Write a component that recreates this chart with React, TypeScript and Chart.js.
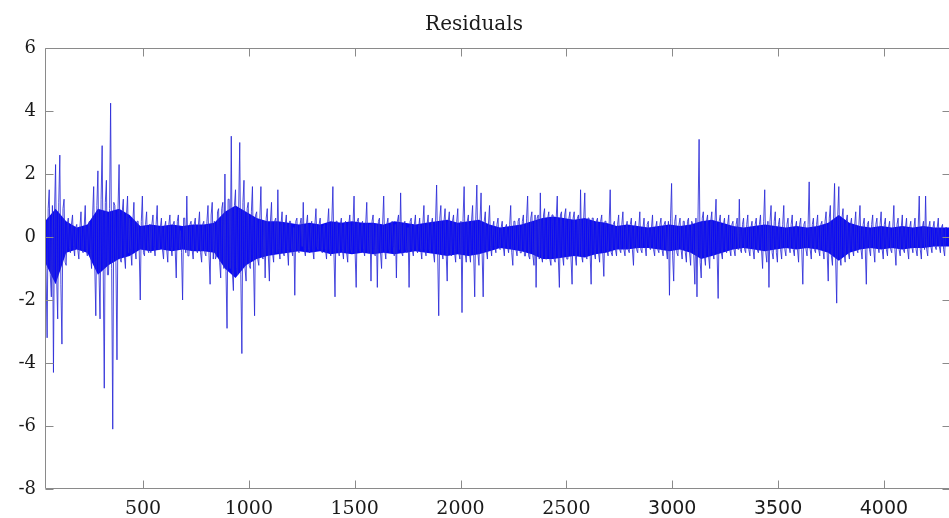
import React, { useEffect, useRef } from "react";
import { Chart, registerables } from "chart.js";

Chart.register(...registerables);

// ---- data ----
const sampleStart = 37; // first sample index shown
const sampleStep = 5; // index distance between the stored samples
const coreStep = 50; // index distance between the dense-core envelope samples
const xMin = 37;
const xMax = 4317;
const yMin = -8;
const yMax = 6;
const xTickValues = [500, 1000, 1500, 2000, 2500, 3000, 3500, 4000];
const yTickValues = [-8, -6, -4, -2, 0, 2, 4, 6];
const chartTitle = "Residuals";

// samples 37 .. 1132
const residualsPart1 = [
  0.4, -1.0, -3.2, 0.9, 1.5, -1.2, -1.9, 1.0, -4.3, 0.8, 2.3, -1.3, -2.6, 1.1, 2.6, -1.5, -3.4, 0.9, 1.2, -0.8,
  -0.9, 0.4, 0.6, -0.3, -0.5, 0.4, 0.7, -0.3, -0.6, 0.3, 0.4, -0.4, -0.7, 0.3, 0.8, -0.4, -0.5, 0.3, 1.0, -0.4,
  -0.6, 0.4, 0.5, -0.5, -1.0, 0.7, 1.6, -0.9, -2.5, 1.0, 2.1, -1.1, -2.6, 1.2, 2.9, -1.0, -4.8, 1.1, 1.8, -1.2,
  -1.2, 0.9, 4.25, -1.0, -6.1, 1.1, 1.0, -0.8, -3.9, 0.9, 2.3, -0.7, -0.8, 0.8, 1.2, -0.6, -1.0, 0.7, 1.3, -0.5,
  0.6, -0.4, -0.9, 0.5, 1.1, -0.4, -0.7, 0.5, 0.5, -0.4, -2.0, 0.5, 1.3, -0.5, -0.6, 0.4, 0.8, -0.4, -0.5, 0.4,
  -0.5, 0.4, 0.7, -0.3, -0.6, 0.4, 1.0, -0.4, -0.4, 0.3, 0.6, -0.4, -0.7, 0.3, 0.5, -0.4, -0.8, 0.4, 0.7, -0.3,
  -0.6, 0.4, 0.5, -0.4, -1.3, 0.5, 0.7, -0.4, 0.2, -0.5, -2.0, 0.6, 0.6, -0.5, 1.3, -0.6, -0.6, 0.4, 0.5, -0.4,
  -0.7, 0.4, 0.6, -0.4, -0.5, 0.4, 0.8, -0.5, -0.8, 0.4, 0.5, -0.5, -0.6, 0.5, 1.0, -0.6, -1.5, 0.7, 1.1, -0.7,
  0.5, -0.7, -0.6, 0.8, 0.9, -0.8, -1.3, 0.9, 1.1, -1.0, 2.0, -1.1, -2.9, 1.2, 1.2, -1.0, 3.2, -1.1, -1.7, 1.0,
  1.5, -1.0, -1.2, 0.9, 3.0, -1.2, -3.7, 1.1, 1.8, -1.0, -1.4, 0.9, 1.1, -0.9, -1.0, 0.8, 1.6, -0.8, -2.5, 0.7,
  0.8, -0.7, -0.9, 0.6, 1.6, -0.6, -0.7, 0.5, -1.3, 0.6, 0.9, -0.6, -1.4, 0.5, 1.1, -0.5, -0.8, 0.5, 0.6, -0.5,
];

// samples 1137 .. 2232
const residualsPart2 = [
  1.5, -0.4, -0.7, 0.4, 0.8, -0.5, -0.6, 0.4, 0.7, -0.4, -0.9, 0.5, 0.5, -0.4, -0.6, 0.3, -1.85, 0.5, 0.6, -0.4,
  -0.5, 0.4, 0.6, -0.3, 1.1, -0.4, -0.6, 0.4, 0.7, -0.4, -0.5, 0.3, 0.5, -0.4, -0.7, 0.4, 0.9, -0.3, -0.4, 0.4,
  0.6, -0.4, -0.5, 0.3, 0.4, -0.4, -0.7, 0.4, 0.9, -0.4, -0.6, 0.5, 1.6, -0.5, -1.9, 0.5, 0.5, -0.4, -0.6, 0.4,
  0.6, -0.4, -0.7, 0.4, 0.5, -0.5, -0.8, 0.4, 0.7, -0.4, -0.5, 0.4, 1.3, -0.5, -1.6, 0.5, 0.6, -0.4, -0.5, 0.4,
  0.5, -0.4, -0.6, 0.4, 1.1, -0.5, -0.5, 0.4, -1.4, 0.5, 0.7, -0.5, -0.6, 0.4, -1.6, 0.5, 0.6, -0.5, -1.0, 0.4,
  1.3, -0.4, -0.7, 0.4, 0.6, -0.4, -0.5, 0.4, 0.5, -0.3, -0.6, 0.4, -1.3, 0.5, 0.7, -0.4, 1.4, -0.5, -0.6, 0.4,
  0.5, -0.4, -0.5, 0.3, -1.6, 0.5, 0.6, -0.4, -0.6, 0.4, 0.7, -0.4, -0.5, 0.3, 0.6, -0.4, -0.7, 0.4, 1.0, -0.4,
  -0.6, 0.4, 0.7, -0.4, -0.5, 0.4, 0.6, -0.5, -0.8, 0.5, 1.65, -0.5, -2.5, 0.6, 1.0, -0.5, -0.7, 0.5, 0.9, -0.5,
  -1.4, 0.5, 0.8, -0.5, -0.6, 0.5, 0.7, -0.5, -0.8, 0.5, 0.9, -0.5, -0.7, 0.5, -2.4, 0.6, 1.6, -0.5, -0.8, 0.5,
  0.7, -0.5, -0.8, 0.5, 1.0, -0.5, -1.9, 0.6, 1.65, -0.5, -0.9, 0.5, 1.4, -0.5, -1.9, 0.5, 0.8, -0.4, -0.7, 0.4,
  1.0, -0.3, -0.6, 0.3, 0.5, -0.3, -0.5, 0.4, 0.6, -0.3, -0.4, 0.3, 0.5, -0.3, -0.6, 0.3, 0.4, -0.3, -0.5, 0.4,
];

// samples 2237 .. 3332
const residualsPart3 = [
  1.0, -0.5, -0.9, 0.5, 0.5, -0.4, -0.6, 0.5, 0.6, -0.5, -0.5, 0.5, 0.7, -0.6, -0.6, 0.6, 1.3, -0.6, -0.7, 0.6,
  0.8, -0.6, -0.9, 0.7, -1.6, 0.6, 0.7, -0.7, 1.4, -0.6, -0.8, 0.7, 0.9, -0.7, -0.7, 0.6, 0.8, -0.7, -0.9, 0.7,
  0.7, -0.7, -0.8, 0.6, 1.3, -0.7, -1.6, 0.7, 0.8, -0.6, -0.9, 0.7, 0.9, -0.7, -0.7, 0.6, 0.8, -0.7, -1.5, 0.6,
  0.8, -0.6, -0.9, 0.6, 0.7, -0.6, 1.5, -0.6, -0.8, 0.6, 1.4, -0.6, -0.7, 0.6, 0.6, -0.5, -1.5, 0.6, 0.6, -0.5,
  -0.7, 0.5, 0.6, -0.5, -0.8, 0.5, 0.7, -0.5, -1.25, 0.5, 0.5, -0.4, -0.6, 0.4, 1.5, -0.5, -0.6, 0.4, 0.5, -0.4,
  -0.6, 0.4, 0.7, -0.4, -0.5, 0.4, 0.8, -0.4, -0.6, 0.3, 0.5, -0.4, -0.5, 0.4, 0.6, -0.4, -0.9, 0.3, 0.5, -0.4,
  -0.5, 0.3, 0.8, -0.4, -0.5, 0.3, 0.6, -0.3, -0.6, 0.4, 0.5, -0.3, -0.4, 0.3, 0.7, -0.4, -0.6, 0.3, 0.5, -0.4,
  -0.5, 0.4, 0.6, -0.4, -0.6, 0.4, 0.5, -0.4, -0.7, 0.5, -1.85, 0.6, 1.7, -0.6, -1.4, 0.5, 0.7, -0.5, -0.6, 0.4,
  0.6, -0.4, -0.7, 0.5, 0.5, -0.5, -0.8, 0.5, 0.6, -0.5, -0.9, 0.5, 0.4, -0.6, -1.5, 0.6, -1.9, 0.7, 3.1, -0.8,
  -1.3, 0.6, 0.8, -0.6, -0.9, 0.5, 0.7, -0.6, -1.0, 0.5, 0.8, -0.5, -0.7, 0.5, 1.2, -0.5, -1.95, 0.5, 0.7, -0.5,
  -0.7, 0.4, 0.6, -0.4, -0.5, 0.4, 0.7, -0.4, -0.6, 0.4, 0.5, -0.4, -0.6, 0.4, 0.6, -0.4, 1.2, -0.4, -0.5, 0.4,
];

// samples 3337 .. 4297
const residualsPart4 = [
  0.6, -0.4, -0.5, 0.4, 0.7, -0.4, -0.6, 0.3, 0.5, -0.4, -0.7, 0.4, 0.6, -0.4, -0.5, 0.4, 0.7, -0.4, -1.0, 0.5,
  1.5, -0.5, -0.8, 0.5, -1.6, 0.5, 1.0, -0.5, -0.7, 0.5, 0.8, -0.5, -0.8, 0.4, 0.6, -0.4, -0.7, 0.4, 1.0, -0.4,
  -0.6, 0.4, 0.6, -0.3, -0.5, 0.4, 0.7, -0.4, -0.6, 0.3, 0.5, -0.4, -0.8, 0.4, 0.6, -0.4, -1.5, 0.4, 0.5, -0.4,
  -0.6, 0.4, 1.75, -0.4, -0.7, 0.4, 0.6, -0.4, -0.5, 0.4, 0.7, -0.4, -0.6, 0.4, 0.5, -0.4, -0.7, 0.5, 0.8, -0.5,
  -1.4, 0.6, 1.0, -0.6, -0.9, 0.6, 1.7, -0.7, -2.1, 0.7, 1.6, -0.6, -0.9, 0.6, 0.9, -0.5, -0.8, 0.5, 0.7, -0.5,
  -0.7, 0.4, 0.6, -0.4, -0.6, 0.4, 0.8, -0.4, -0.5, 0.4, 1.0, -0.4, -0.7, 0.4, 0.6, -0.4, -1.5, 0.4, 0.5, -0.4,
  -0.6, 0.4, 0.7, -0.4, -0.8, 0.4, 0.6, -0.3, -0.5, 0.4, 0.8, -0.4, -0.7, 0.4, 0.6, -0.4, -0.6, 0.3, 0.5, -0.4,
  -0.5, 0.3, 1.0, -0.4, -0.9, 0.4, 0.6, -0.4, -0.6, 0.3, 0.7, -0.4, -0.5, 0.3, 0.6, -0.4, -0.7, 0.3, 0.5, -0.3,
  -0.5, 0.3, 0.6, -0.4, -0.6, 0.3, 1.3, -0.4, -0.7, 0.3, 0.5, -0.4, 1.3, -0.4, -0.6, 0.3, 0.5, -0.3, -0.5, 0.3,
  0.5, -0.3, -0.4, 0.3, 0.6, -0.3, -0.5, 0.3, 0.4, -0.4, -0.6, 0.3, 0.3,
];

// Upper / lower edge of the solid (overplotted) blue core, one value every 50 samples from 37
const coreUpper = [
  0.5, 0.9, 0.5, 0.3, 0.4, 0.9, 0.8, 0.9, 0.7, 0.35,
  0.4, 0.35, 0.4, 0.35, 0.4, 0.4, 0.45, 0.8, 1.0, 0.8,
  0.6, 0.5, 0.5, 0.45, 0.4, 0.45, 0.4, 0.5, 0.45, 0.5,
  0.45, 0.45, 0.4, 0.5, 0.45, 0.4, 0.45, 0.5, 0.55, 0.45,
  0.5, 0.55, 0.4, 0.3, 0.35, 0.4, 0.5, 0.6, 0.65, 0.6,
  0.55, 0.6, 0.5, 0.45, 0.35, 0.4, 0.35, 0.3, 0.35, 0.4,
  0.35, 0.4, 0.5, 0.55, 0.45, 0.35, 0.3, 0.35, 0.4, 0.35,
  0.3, 0.35, 0.3, 0.35, 0.45, 0.7, 0.45, 0.35, 0.3, 0.35,
  0.3, 0.35, 0.3, 0.35, 0.3, 0.3, 0.3,
];
const coreLower = [
  -0.8, -1.5, -0.5, -0.4, -0.5, -1.2, -0.9, -0.7, -0.6, -0.4,
  -0.45, -0.4, -0.45, -0.4, -0.45, -0.45, -0.5, -1.0, -1.3, -0.9,
  -0.7, -0.6, -0.55, -0.5, -0.45, -0.5, -0.45, -0.55, -0.5, -0.55,
  -0.5, -0.55, -0.5, -0.55, -0.5, -0.45, -0.5, -0.55, -0.6, -0.55,
  -0.6, -0.55, -0.45, -0.35, -0.4, -0.45, -0.55, -0.7, -0.7, -0.65,
  -0.6, -0.65, -0.55, -0.5, -0.4, -0.4, -0.35, -0.35, -0.4, -0.45,
  -0.4, -0.5, -0.7, -0.6, -0.5, -0.4, -0.35, -0.4, -0.45, -0.4,
  -0.35, -0.4, -0.35, -0.4, -0.5, -0.75, -0.5, -0.4, -0.35, -0.4,
  -0.35, -0.4, -0.35, -0.35, -0.3, -0.3, -0.3,
];

const residuals = [...residualsPart1, ...residualsPart2, ...residualsPart3, ...residualsPart4];

const AXIS_COLOR = "#8a8a8a";
const TEXT_COLOR = "#1a1a1a";
const LINE_COLOR = "#2a2ad8";
const CORE_COLOR = "#0a0af5";

export default function App() {
  const canvasRef = useRef<HTMLCanvasElement | null>(null);

  useEffect(() => {
    const canvas = canvasRef.current;
    if (!canvas) return;

    const points = residuals.map((v, i) => ({ x: sampleStart + i * sampleStep, y: v }));
    const upperPts = coreUpper.map((v, i) => ({ x: sampleStart + i * coreStep, y: v }));
    const lowerPts = coreLower.map((v, i) => ({ x: sampleStart + i * coreStep, y: v }));

    const framePlugin = {
      id: "matlabFrame",
      afterDraw(chart: any) {
        const { ctx, chartArea } = chart;
        const xs = chart.scales.x;
        const ys = chart.scales.y;
        const L = Math.round(chartArea.left) + 0.5;
        const R = Math.round(chartArea.right) - 0.5;
        const T = Math.round(chartArea.top) + 0.5;
        const B = Math.round(chartArea.bottom) - 0.5;
        const tick = 8;
        ctx.save();
        ctx.strokeStyle = AXIS_COLOR;
        ctx.lineWidth = 1;
        ctx.beginPath();
        ctx.rect(L, T, R - L, B - T);
        for (const v of xTickValues) {
          const px = Math.round(xs.getPixelForValue(v)) + 0.5;
          ctx.moveTo(px, B);
          ctx.lineTo(px, B - tick);
          ctx.moveTo(px, T);
          ctx.lineTo(px, T + tick);
        }
        for (const v of yTickValues) {
          const py = Math.round(ys.getPixelForValue(v)) + 0.5;
          ctx.moveTo(L, py);
          ctx.lineTo(L + tick, py);
          ctx.moveTo(R, py);
          ctx.lineTo(R - tick, py);
        }
        ctx.stroke();
        ctx.fillStyle = TEXT_COLOR;
        ctx.font = '20px "DejaVu Serif"';
        ctx.textAlign = "center";
        ctx.textBaseline = "alphabetic";
        ctx.fillText(chartTitle, 474, 30);
        ctx.restore();
      },
    };

    const chart = new Chart(canvas, {
      type: "line",
      data: {
        datasets: [
          {
            data: points,
            borderColor: LINE_COLOR,
            borderWidth: 0.85,
            pointRadius: 0,
            tension: 0,
            fill: false,
            order: 0,
          },
          {
            data: upperPts,
            borderColor: CORE_COLOR,
            borderWidth: 0,
            pointRadius: 0,
            tension: 0,
            fill: false,
            order: 1,
          },
          {
            data: lowerPts,
            borderColor: CORE_COLOR,
            backgroundColor: CORE_COLOR,
            borderWidth: 0,
            pointRadius: 0,
            tension: 0,
            fill: "-1",
            order: 2,
          },
        ],
      },
      options: {
        animation: false,
        responsive: false,
        devicePixelRatio: 1,
        parsing: false,
        layout: { padding: { top: 48, right: 9, left: 0, bottom: 0 } },
        plugins: {
          legend: { display: false },
          title: { display: false },
          tooltip: { enabled: false },
        },
        scales: {
          x: {
            type: "linear",
            min: xMin,
            max: xMax,
            grid: { display: false, drawTicks: false },
            border: { display: false },
            afterBuildTicks: (s: any) => {
              s.ticks = xTickValues.map((v) => ({ value: v }));
            },
            afterFit: (s: any) => {
              s.height = 29;
            },
            ticks: {
              padding: 9,
              color: TEXT_COLOR,
              maxRotation: 0,
              autoSkip: false,
              font: (c: any) => ({
                family: c.tick && c.tick.value >= 3000 ? "DejaVu Sans" : "DejaVu Serif",
                size: 19,
              }),
              callback: (v: any) => String(v),
            },
          },
          y: {
            type: "linear",
            min: yMin,
            max: yMax,
            grid: { display: false, drawTicks: false },
            border: { display: false },
            afterBuildTicks: (s: any) => {
              s.ticks = yTickValues.map((v) => ({ value: v }));
            },
            afterFit: (s: any) => {
              s.width = 45;
            },
            ticks: {
              padding: 9,
              color: TEXT_COLOR,
              autoSkip: false,
              font: { family: "DejaVu Serif", size: 18 },
              callback: (v: any) => String(v),
            },
          },
        },
      },
      plugins: [framePlugin],
    });

    return () => chart.destroy();
  }, []);

  return (
    <div
      style={{
        position: "fixed",
        left: 0,
        top: 0,
        width: "100vw",
        height: "100vh",
        overflow: "hidden",
        background: "#ffffff",
      }}
    >
      <canvas ref={canvasRef} width={960} height={518} style={{ display: "block" }} />
    </div>
  );
}
